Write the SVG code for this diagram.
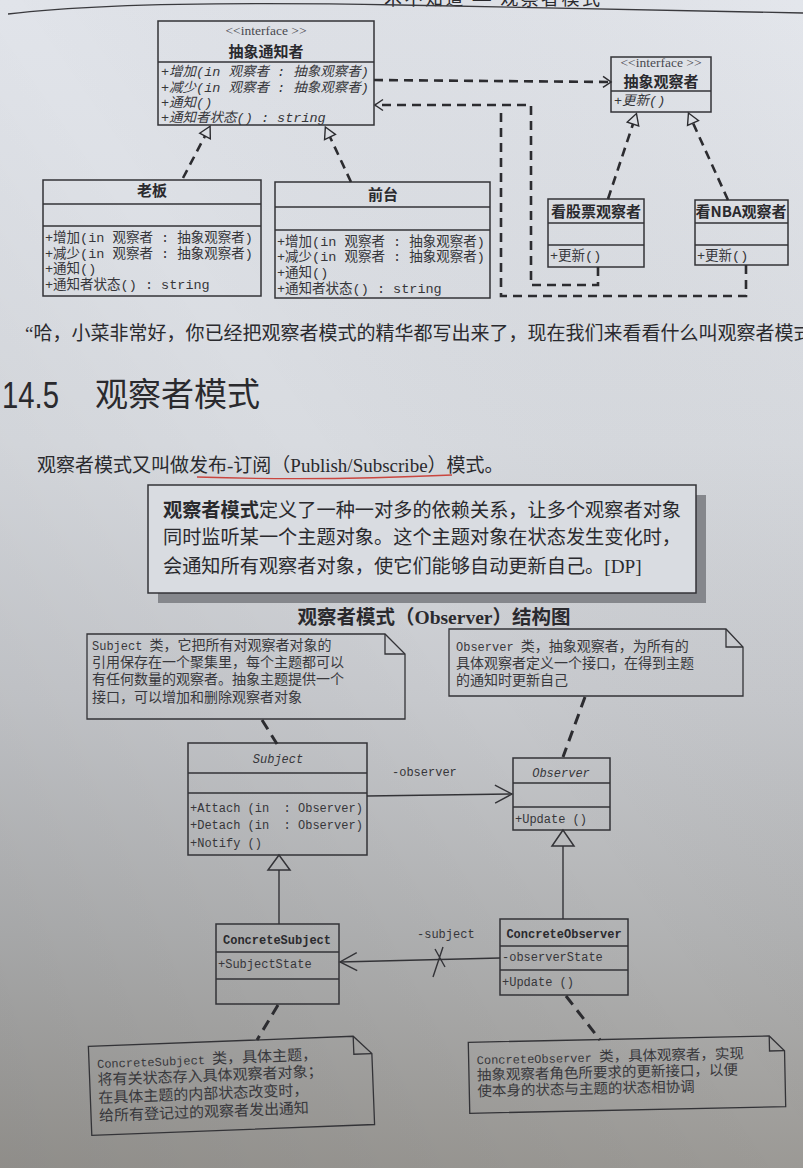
<svg xmlns="http://www.w3.org/2000/svg" width="803" height="1168" viewBox="0 0 803 1168" xml:space="preserve">
<style>
  .box{fill:none;stroke:#333337;stroke-width:1.5}
  .ln{fill:none;stroke:#333337;stroke-width:1.4}
  .dash{fill:none;stroke:#2c2c30;stroke-width:2.6;stroke-dasharray:9 6}
  .anchor{fill:none;stroke:#2c2c30;stroke-width:3;stroke-dasharray:11 7}
  .u{font-family:"Liberation Mono","Noto Sans CJK SC",monospace;font-size:13.5px;fill:#36363a;white-space:pre}
  .ut{font-family:"Noto Sans CJK SC",sans-serif;font-weight:bold;font-size:15px;fill:#2a2a2e;text-anchor:middle}
  .st{font-family:"Liberation Serif",serif;font-size:13.5px;fill:#4a4a50;text-anchor:middle;white-space:pre}
  .it{font-style:italic}
  .m{font-family:"Liberation Mono","Noto Sans CJK SC",monospace;font-size:12px;fill:#36363a;white-space:pre}
  .mb{font-weight:bold;fill:#2a2a2e}
  .nt{font-family:"Noto Sans CJK SC",sans-serif;fill:#38383c;white-space:pre}
  .lat{font-family:"Liberation Mono",monospace;font-size:12px}
  .body{font-family:"Liberation Serif","Noto Sans CJK SC",serif;fill:#2a2a2e}
  .note{fill:none;stroke:#333337;stroke-width:1.3}
</style>
<defs>
  <linearGradient id="paper" x1="0" y1="0" x2="0" y2="1">
    <stop offset="0" stop-color="#e1e4ea"/>
    <stop offset="0.38" stop-color="#d8dbe0"/>
    <stop offset="0.6" stop-color="#c7c9cd"/>
    <stop offset="0.8" stop-color="#b1b2b3"/>
    <stop offset="1" stop-color="#9b9995"/>
  </linearGradient>
  <linearGradient id="side" x1="1" y1="0" x2="0" y2="1">
    <stop offset="0" stop-color="#ffffff" stop-opacity="0.08"/>
    <stop offset="0.5" stop-color="#000000" stop-opacity="0"/>
    <stop offset="1" stop-color="#000000" stop-opacity="0.08"/>
  </linearGradient>
  <!-- hollow triangle head, drawn forward from the line end -->
  <marker id="tri" markerUnits="userSpaceOnUse" viewBox="-1 -8 14 16" markerWidth="14" markerHeight="16" refX="0" refY="0" orient="auto" overflow="visible">
    <path d="M0,-6 L11,0 L0,6 Z" fill="none" stroke="#2c2c30" stroke-width="1.4"/>
  </marker>
  <!-- small open arrow head -->
  <marker id="open" markerUnits="userSpaceOnUse" viewBox="-10 -7 12 14" markerWidth="12" markerHeight="14" refX="0" refY="0" orient="auto" overflow="visible">
    <path d="M-8,-5.5 L0,0 L-8,5.5" fill="none" stroke="#2c2c30" stroke-width="1.5"/>
  </marker>
  <!-- larger open arrow head for associations -->
  <marker id="openL" markerUnits="userSpaceOnUse" viewBox="-20 -10 22 20" markerWidth="22" markerHeight="20" refX="0" refY="0" orient="auto" overflow="visible">
    <path d="M-17,-9 L0,0 L-17,9" fill="none" stroke="#333337" stroke-width="1.4"/>
  </marker>
</defs>

<!-- page -->
<rect width="803" height="1168" fill="url(#paper)"/>
<rect width="803" height="1168" fill="url(#side)"/>

<!-- running head -->
<g id="running-head">
  <text x="384" y="5" class="body" font-size="18" textLength="216">术不知道 — 观察者模式</text>
  <path d="M8,14 C90,4 240,2 400,5 S700,11 803,13" fill="none" stroke="#3a3a3e" stroke-width="1.3"/>
</g>

<!-- ===== first class diagram ===== -->
<g id="notifier-iface">
  <rect x="158" y="21" width="216" height="104" class="box"/>
  <line x1="158" y1="62" x2="374" y2="62" class="ln"/>
  <text x="266" y="35" class="st">&lt;&lt;interface &gt;&gt;</text>
  <text x="266" y="57" class="ut" font-size="16">抽象通知者</text>
  <text x="161" y="76" class="u it">+增加(in 观察者 : 抽象观察者)</text>
  <text x="161" y="92" class="u it">+减少(in 观察者 : 抽象观察者)</text>
  <text x="161" y="107" class="u it">+通知()</text>
  <text x="161" y="122" class="u it">+通知者状态() : string</text>
</g>

<g id="boss">
  <rect x="43" y="180" width="218" height="116" class="box"/>
  <line x1="43" y1="204" x2="261" y2="204" class="ln"/>
  <line x1="43" y1="226" x2="261" y2="226" class="ln"/>
  <text x="152" y="196" class="ut">老板</text>
  <text x="45" y="242" class="u">+增加(in 观察者 : 抽象观察者)</text>
  <text x="45" y="258" class="u">+减少(in 观察者 : 抽象观察者)</text>
  <text x="45" y="273" class="u">+通知()</text>
  <text x="45" y="289" class="u">+通知者状态() : string</text>
</g>

<g id="front-desk">
  <rect x="275" y="182" width="215" height="116" class="box"/>
  <line x1="275" y1="207" x2="490" y2="207" class="ln"/>
  <line x1="275" y1="230" x2="490" y2="230" class="ln"/>
  <text x="383" y="200" class="ut">前台</text>
  <text x="277" y="246" class="u">+增加(in 观察者 : 抽象观察者)</text>
  <text x="277" y="261" class="u">+减少(in 观察者 : 抽象观察者)</text>
  <text x="277" y="277" class="u">+通知()</text>
  <text x="277" y="293" class="u">+通知者状态() : string</text>
</g>

<g id="observer-iface">
  <rect x="611" y="57" width="100" height="55" class="box"/>
  <line x1="611" y1="91" x2="711" y2="91" class="ln"/>
  <text x="661" y="67" class="st" font-size="12.5">&lt;&lt;interface &gt;&gt;</text>
  <text x="661" y="87" class="ut" font-size="14.5">抽象观察者</text>
  <text x="614" y="105" class="u it">+更新()</text>
</g>

<g id="stock-observer">
  <rect x="548" y="199" width="96" height="68" class="box"/>
  <line x1="548" y1="223" x2="644" y2="223" class="ln"/>
  <line x1="548" y1="245" x2="644" y2="245" class="ln"/>
  <text x="596" y="217" class="ut" font-size="14.5">看股票观察者</text>
  <text x="550" y="260" class="u">+更新()</text>
</g>

<g id="nba-observer">
  <rect x="695" y="200" width="93" height="65" class="box"/>
  <line x1="695" y1="223" x2="788" y2="223" class="ln"/>
  <line x1="695" y1="245" x2="788" y2="245" class="ln"/>
  <text x="741" y="217" class="ut" font-size="14.5">看NBA观察者</text>
  <text x="697" y="260" class="u">+更新()</text>
</g>

<g id="connectors-top">
  <path d="M183,178 L205,136" class="dash" marker-end="url(#tri)"/>
  <path d="M351,182 L330,137" class="dash" marker-end="url(#tri)"/>
  <path d="M608,199 L633,124" class="dash" marker-end="url(#tri)"/>
  <path d="M728,200 L693,123" class="dash" marker-end="url(#tri)"/>
  <path d="M374,80 L611,82" class="dash" marker-end="url(#open)"/>
  <path d="M598,267 V285 H531 V105 H375" class="dash" marker-end="url(#open)"/>
  <path d="M746,265 V296 H501 V108" class="dash"/>
</g>

<!-- ===== text ===== -->
<text x="25" y="340" class="body" font-size="19">“哈，小菜非常好，你已经把观察者模式的精华都写出来了，现在我们来看看什么叫观察者模式</text>
<text x="2" y="408" font-family="Liberation Sans,sans-serif" font-size="36" fill="#2a2a2e" textLength="57" lengthAdjust="spacingAndGlyphs">14.5</text>
<text x="95" y="406" font-family="Noto Sans CJK SC,sans-serif" font-size="33" fill="#2a2a2e">观察者模式</text>
<text x="37" y="472" class="body" font-size="19">观察者模式又叫做发布-订阅（Publish/Subscribe）模式。</text>
<path d="M197,477 Q320,481 452,475" fill="none" stroke="#c9463f" stroke-width="1.3"/>

<g id="definition">
  <rect x="158" y="495" width="548" height="108" fill="#85878c"/>
  <rect x="148" y="485" width="548" height="108" fill="#d9dce1" stroke="#333337" stroke-width="1.5"/>
  <text x="163" y="517" class="body" font-size="19.2"><tspan font-weight="bold">观察者模式</tspan>定义了一种一对多的依赖关系，让多个观察者对象</text>
  <text x="163" y="544" class="body" font-size="19.2">同时监听某一个主题对象。这个主题对象在状态发生变化时，</text>
  <text x="163" y="573" class="body" font-size="19.2">会通知所有观察者对象，使它们能够自动更新自己。[DP]</text>
</g>

<text x="434" y="624" class="body" font-size="19.5" font-weight="bold" text-anchor="middle">观察者模式（Observer）结构图</text>

<!-- ===== observer pattern structure ===== -->
<g id="note-subject">
  <path d="M87,634 H385 L405,654 V719 H87 Z" class="note"/>
  <path d="M385,634 V654 H405" class="note"/>
  <text x="92" y="650" class="nt" font-size="14"><tspan class="lat">Subject </tspan>类，它把所有对观察者对象的</text>
  <text x="92" y="667" class="nt" font-size="14">引用保存在一个聚集里，每个主题都可以</text>
  <text x="92" y="684" class="nt" font-size="14">有任何数量的观察者。抽象主题提供一个</text>
  <text x="92" y="702" class="nt" font-size="14">接口，可以增加和删除观察者对象</text>
</g>

<g id="note-observer">
  <path d="M449,629 H726 L743,647 V696 H449 Z" class="note"/>
  <path d="M726,629 V647 H743" class="note"/>
  <text x="456" y="651" class="nt" font-size="14"><tspan class="lat">Observer </tspan>类，抽象观察者，为所有的</text>
  <text x="456" y="668" class="nt" font-size="14">具体观察者定义一个接口，在得到主题</text>
  <text x="456" y="685" class="nt" font-size="14">的通知时更新自己</text>
</g>

<g id="subject">
  <rect x="188" y="743" width="179" height="112" class="box"/>
  <line x1="188" y1="773" x2="367" y2="773" class="ln"/>
  <line x1="188" y1="793" x2="367" y2="793" class="ln"/>
  <text x="278" y="763" class="m it" text-anchor="middle" font-size="13">Subject</text>
  <text x="190" y="812" class="m">+Attach (in  : Observer)</text>
  <text x="190" y="829" class="m">+Detach (in  : Observer)</text>
  <text x="190" y="847" class="m">+Notify ()</text>
</g>

<g id="observer">
  <rect x="513" y="758" width="97" height="72" class="box"/>
  <line x1="513" y1="783" x2="610" y2="783" class="ln"/>
  <line x1="513" y1="807" x2="610" y2="807" class="ln"/>
  <text x="561" y="777" class="m it" text-anchor="middle" font-size="13">Observer</text>
  <text x="515" y="823" class="m">+Update ()</text>
</g>

<g id="concrete-subject">
  <rect x="216" y="924" width="123" height="80" class="box"/>
  <line x1="216" y1="952" x2="339" y2="952" class="ln"/>
  <line x1="216" y1="979" x2="339" y2="979" class="ln"/>
  <text x="277" y="944" class="m mb" text-anchor="middle">ConcreteSubject</text>
  <text x="218" y="968" class="m">+SubjectState</text>
</g>

<g id="concrete-observer">
  <rect x="500" y="919" width="128" height="76" class="box"/>
  <line x1="500" y1="946" x2="628" y2="946" class="ln"/>
  <line x1="500" y1="970" x2="628" y2="970" class="ln"/>
  <text x="564" y="938" class="m mb" text-anchor="middle">ConcreteObserver</text>
  <text x="502" y="961" class="m">-observerState</text>
  <text x="502" y="986" class="m">+Update ()</text>
</g>

<g id="note-concrete-subject" transform="rotate(-2.2 231 1086)">
  <path d="M90,1041 H355 L373,1059 V1130 H90 Z" class="note"/>
  <path d="M355,1041 V1059 H373" class="note"/>
  <text x="98" y="1063" class="nt" font-size="15"><tspan class="lat">ConcreteSubject </tspan>类，具体主题，</text>
  <text x="98" y="1080" class="nt" font-size="15">将有关状态存入具体观察者对象；</text>
  <text x="98" y="1098" class="nt" font-size="15">在具体主题的内部状态改变时，</text>
  <text x="98" y="1116" class="nt" font-size="15">给所有登记过的观察者发出通知</text>
</g>

<g id="note-concrete-observer" transform="rotate(-1.2 627 1075)">
  <path d="M469,1039 H770 L785,1054 V1110 H469 Z" class="note"/>
  <path d="M770,1039 V1054 H785" class="note"/>
  <text x="477" y="1061" class="nt" font-size="14.5"><tspan class="lat">ConcreteObserver </tspan>类，具体观察者，实现</text>
  <text x="477" y="1077" class="nt" font-size="14.5">抽象观察者角色所要求的更新接口，以便</text>
  <text x="477" y="1093" class="nt" font-size="14.5">使本身的状态与主题的状态相协调</text>
</g>

<g id="connectors-bottom">
  <!-- association Subject -> Observer -->
  <path d="M367,796 L512,794" class="ln" marker-end="url(#openL)"/>
  <text x="392" y="776" class="m">-observer</text>
  <!-- association ConcreteObserver -> ConcreteSubject -->
  <path d="M500,958 L340,962" class="ln" marker-end="url(#openL)"/>
  <text x="417" y="938" class="m">-subject</text>
  <path d="M433,977 L443,947 M435,949 L445,967" class="ln" stroke-width="1.5"/>
  <!-- generalizations -->
  <polygon points="279,855 268,870 290,870" class="box"/>
  <path d="M279,870 V924" class="ln"/>
  <polygon points="563,830 552,846 574,846" class="box"/>
  <path d="M563,846 V919" class="ln"/>
  <!-- note anchors -->
  <path d="M262,720 L277,744" class="anchor"/>
  <path d="M585,697 L563,757" class="anchor"/>
  <path d="M278,1005 L257,1040" class="anchor"/>
  <path d="M566,996 L600,1040" class="anchor"/>
</g>
</svg>
